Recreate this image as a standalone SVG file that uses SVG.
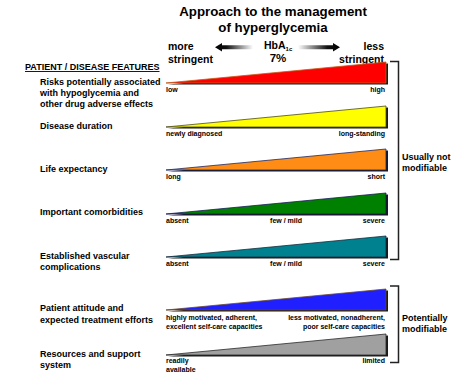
<svg xmlns="http://www.w3.org/2000/svg" width="463" height="373" viewBox="0 0 463 373">
<style>
text{font-family:"Liberation Sans",Arial,sans-serif;font-weight:bold;fill:#000}
.title{font-size:13.3px;text-anchor:middle}
.dir{font-size:10.5px}
.hdr{font-size:9px;text-decoration:underline}
.row{font-size:9px}
.lab{font-size:7px}
.side{font-size:9px}
.r{text-anchor:end}
.m{text-anchor:middle}
.tri{stroke-width:0.8;stroke-linejoin:miter}
.shadow{fill:#1a1a1a}
.br{fill:none;stroke:#222;stroke-width:1.5}
</style>
<defs>
<linearGradient id="gl" x1="0" y1="0" x2="1" y2="0">
<stop offset="0" stop-color="#000"/><stop offset="0.3" stop-color="#111"/><stop offset="1" stop-color="#fff"/>
</linearGradient>
<linearGradient id="gr" x1="0" y1="0" x2="1" y2="0">
<stop offset="0" stop-color="#fff"/><stop offset="0.7" stop-color="#111"/><stop offset="1" stop-color="#000"/>
</linearGradient>
</defs>

<g id="title">
<text class="title" x="273" y="16">Approach to the management</text>
<text class="title" x="273" y="32">of hyperglycemia</text>
</g>

<g id="scale">
<text class="dir" x="168" y="50">more</text>
<text class="dir" x="168" y="63">stringent</text>
<text class="dir r" x="384" y="50">less</text>
<text class="dir r" x="384" y="63">stringent</text>
<text x="264" y="49" style="font-size:10.5px">HbA<tspan style="font-size:6px" dy="2">1c</tspan></text>
<text x="278" y="62" class="m" style="font-size:11.5px">7%</text>
<polygon points="215,47.3 222,43 222,45.3 253,45.3 253,49.3 222,49.3 222,51.6" fill="url(#gl)"/>
<polygon points="340,47.3 333,43 333,45.3 298,45.3 298,49.3 333,49.3 333,51.6" fill="url(#gr)"/>
</g>

<g id="header">
<text class="hdr" x="25" y="70">PATIENT / DISEASE FEATURES</text>
</g>

<g id="row-risks">
<text class="row" x="40" y="85">Risks potentially associated</text>
<text class="row" x="40" y="96">with hypoglycemia and</text>
<text class="row" x="40" y="107">other drug adverse effects</text>
<polygon class="shadow" points="168,84.5 388,63.5 388,84.5"/>
<polygon class="tri" points="166,83 386,62 386,83" fill="#ff0000" stroke="#c05a1a"/>
<text class="lab" x="166" y="92">low</text>
<text class="lab r" x="385" y="92">high</text>
</g>

<g id="row-duration">
<text class="row" x="40" y="129">Disease duration</text>
<polygon class="shadow" points="168,128.5 388,107.5 388,128.5"/>
<polygon class="tri" points="166,127 386,106 386,127" fill="#ffff00" stroke="#4a4a20"/>
<text class="lab" x="166" y="135.5">newly diagnosed</text>
<text class="lab r" x="385" y="135.5">long-standing</text>
</g>

<g id="row-life">
<text class="row" x="40" y="172">Life expectancy</text>
<polygon class="shadow" points="168,171.5 388,150.5 388,171.5"/>
<polygon class="tri" points="166,170 386,149 386,170" fill="#ff8c14" stroke="#1a2a6a"/>
<text class="lab" x="166" y="179">long</text>
<text class="lab r" x="385" y="179">short</text>
</g>

<g id="row-comorb">
<text class="row" x="40" y="215">Important comorbidities</text>
<polygon class="shadow" points="168,215.5 388,194.5 388,215.5"/>
<polygon class="tri" points="166,214 386,193 386,214" fill="#008000" stroke="#1a1a5a"/>
<text class="lab" x="166" y="222.5">absent</text>
<text class="lab m" x="286" y="222.5">few / mild</text>
<text class="lab r" x="385" y="222.5">severe</text>
</g>

<g id="row-vascular">
<text class="row" x="40" y="258.5">Established vascular</text>
<text class="row" x="40" y="269.5">complications</text>
<polygon class="shadow" points="168,258.5 388,237.5 388,258.5"/>
<polygon class="tri" points="166,257 386,236 386,257" fill="#00818f" stroke="#1a2a3a"/>
<text class="lab" x="166" y="265.5">absent</text>
<text class="lab m" x="286" y="265.5">few / mild</text>
<text class="lab r" x="385" y="265.5">severe</text>
</g>

<g id="row-attitude">
<text class="row" x="40" y="311">Patient attitude and</text>
<text class="row" x="40" y="322.5">expected treatment efforts</text>
<polygon class="shadow" points="168,311.5 388,290.5 388,311.5"/>
<polygon class="tri" points="166,310 386,289 386,310" fill="#1f1fff" stroke="#6a4a2a"/>
<text class="lab" x="166" y="319.5">highly motivated, adherent,</text>
<text class="lab" x="166" y="328.5">excellent self-care capacities</text>
<text class="lab r" x="385" y="319.5">less motivated, nonadherent,</text>
<text class="lab r" x="385" y="328.5">poor self-care capacities</text>
</g>

<g id="row-resources">
<text class="row" x="40" y="356.5">Resources and support</text>
<text class="row" x="40" y="367.5">system</text>
<polygon class="shadow" points="168,356.5 388,335.5 388,356.5"/>
<polygon class="tri" points="166,355 386,334 386,355" fill="#a0a0a0" stroke="#2a2a2a"/>
<text class="lab" x="166" y="363">readily</text>
<text class="lab" x="166" y="372">available</text>
<text class="lab r" x="385" y="363">limited</text>
</g>

<g id="connectors">
<polyline class="br" points="390,61.5 398.5,61.5 398.5,259.5 390,259.5"/>
<polyline class="br" points="390,286 398.5,286 398.5,362.5 390,362.5"/>
</g>

<g id="group-labels">
<text class="side" x="402" y="160">Usually not</text>
<text class="side" x="402" y="171">modifiable</text>
<text class="side" x="402" y="320.5">Potentially</text>
<text class="side" x="402" y="331.5">modifiable</text>
</g>
</svg>
